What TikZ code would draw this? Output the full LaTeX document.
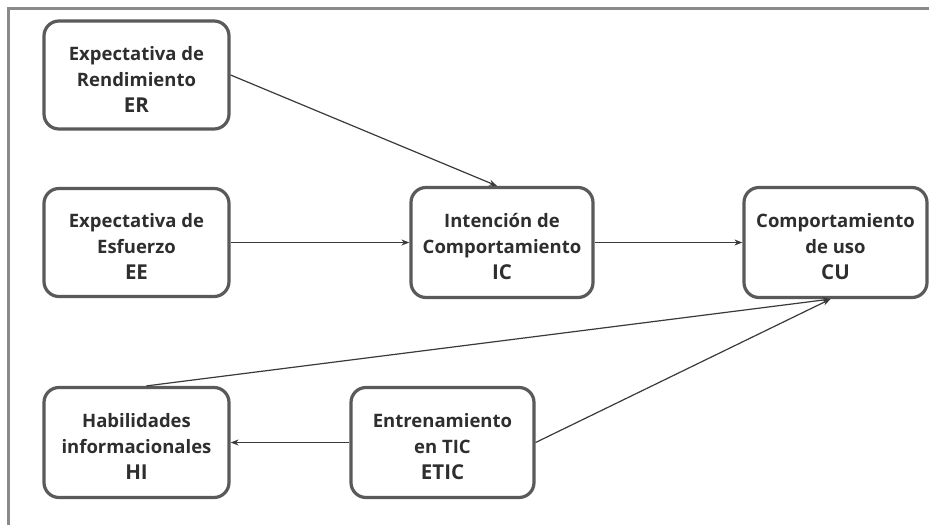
\documentclass[tikz,border=0pt]{standalone}
\usepackage{fontspec}
\setmainfont{Open Sans}
\usetikzlibrary{arrows.meta,calc}
\definecolor{boxline}{HTML}{5A5A5A}
\definecolor{txt}{HTML}{2E2E2E}
\definecolor{frameline}{HTML}{8A8A8A}
\definecolor{arr}{HTML}{3A3A3A}
\tikzset{
  box/.style={draw=boxline, line width=3.2pt, rounded corners=15pt, fill=white,
    minimum width=185pt, minimum height=108pt, align=center, inner sep=0pt,
    font=\fontsize{18.5}{26}\selectfont\bfseries, text=txt},
  conn/.style={draw=arr, line width=1.2pt, -{Stealth[length=8pt,width=6pt]}}
}
\newcommand{\ab}[1]{{\fontsize{20.5}{26}\selectfont #1}}
\newcommand{\tp}{\rule{0pt}{22pt}}
\begin{document}
\begin{tikzpicture}[x=1pt,y=-1pt]
\useasboundingbox (0,0) rectangle (929,525);
\fill[white] (0,0) rectangle (929,525);
\draw[frameline, line width=3pt] (8,525) -- (8,8) -- (929,8);

\node[box] (ER) at (136.5,75) {\tp Expectativa de\\Rendimiento\\\ab{ER}};
\node[box] (EE) at (136.5,242.5) {\tp Expectativa de\\Esfuerzo\\\ab{EE}};
\node[box, minimum width=182pt, minimum height=110pt] (IC) at (502,242.5) {\tp Intención de\\Comportamiento\\\ab{IC}};
\node[box, minimum width=183pt, minimum height=110pt] (CU) at (835.5,242.5) {\tp Comportamiento\\de uso\\\ab{CU}};
\node[box, minimum height=110pt] (HI) at (136.5,442.5) {\tp Habilidades\\informacionales\\\ab{HI}};
\node[box, minimum width=183pt, minimum height=110pt] (ETIC) at (442.5,442.5) {\tp Entrenamiento\\en TIC\\\ab{ETIC}};

\draw[conn] (ER.east) -- ([xshift=-5pt]IC.north);
\draw[conn] (EE.east) -- (IC.west);
\draw[conn] (IC.east) -- (CU.west);
\draw[conn] ([xshift=10pt]HI.north) -- ([xshift=-5pt]CU.south);
\draw[conn] (ETIC.east) -- ([xshift=-5pt]CU.south);
\draw[conn] (ETIC.west) -- (HI.east);
\end{tikzpicture}
\end{document}
